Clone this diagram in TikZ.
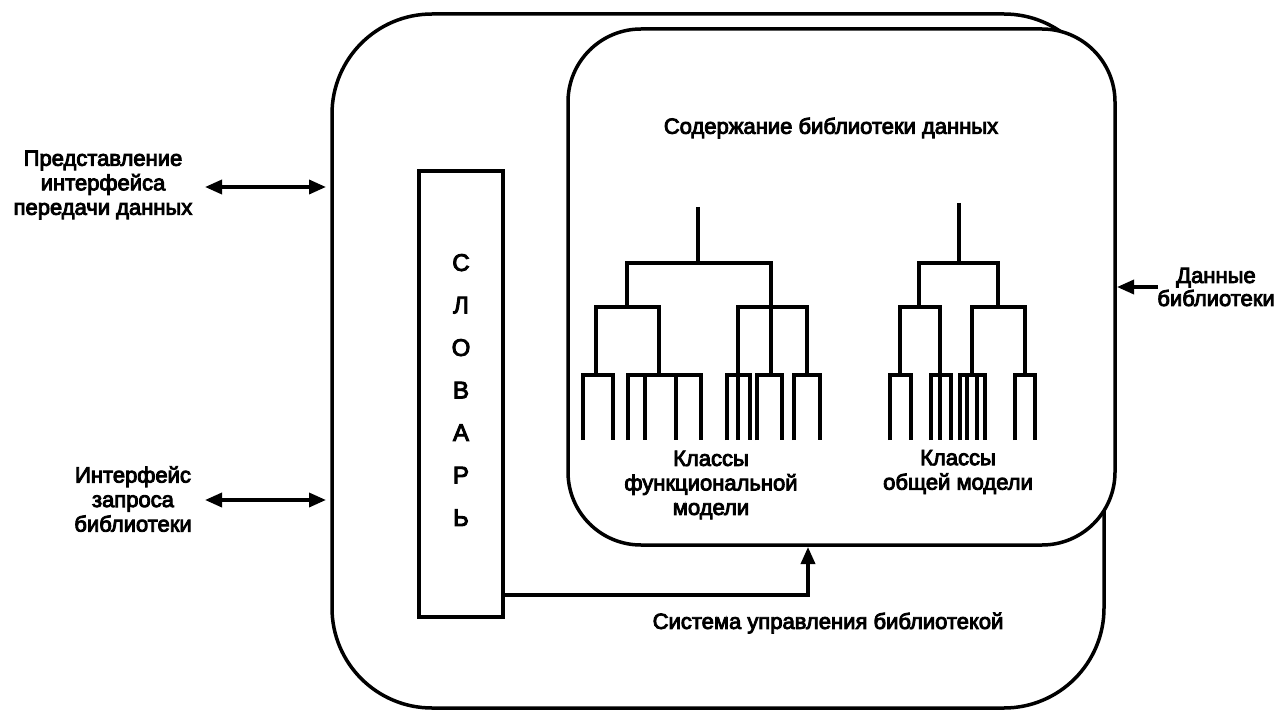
\documentclass[tikz,border=0pt]{standalone}
\usepackage{fontspec}
\setmainfont{Liberation Sans}
\newfontfamily\heavyfont{Liberation Sans}[FakeBold=4]
\usetikzlibrary{arrows.meta}
\begin{document}
\begin{tikzpicture}[x=1pt,y=-1pt,
  lbl/.style={font=\heavyfont\fontsize{22}{24.5}\selectfont, align=center, inner sep=0pt},
  boxline/.style={draw, line width=3.5pt, inner sep=0pt, outer sep=0pt},
  arr/.style={line width=3.5pt, -{Triangle[length=17pt,width=14pt]}},
  dbl/.style={line width=3.5pt, {Triangle[length=17pt,width=14pt]}-{Triangle[length=17pt,width=14pt]}},
  treeline/.style={line width=3.5pt, line join=miter}]
\useasboundingbox (0,0) rectangle (1279,711);
% outer system box
\node[boxline, fill=white, rounded corners=100pt, minimum width=772pt, minimum height=694pt] (outer) at (718,361) {};
% dictionary
\node[boxline, fill=white, minimum width=84pt, minimum height=446pt] (dict) at (461,394) {};
\node[lbl, font=\heavyfont\fontsize{24}{42.5}\selectfont] (dicttext) at (461,390) {С\\Л\\О\\В\\А\\Р\\Ь};
% inner content box
\node[boxline, fill=white, rounded corners=73pt, minimum width=547pt, minimum height=516pt] (inner) at (841.5,287) {};

% labels
\node[lbl] (content) at (831,128) {Содержание библиотеки данных};
\node[lbl] (repr) at (103,185) {Представление\\интерфейса\\передачи данных};
\node[lbl] (query) at (133,499) {Интерфейс\\запроса\\библиотеки};
\node[lbl, font=\heavyfont\fontsize{22}{23}\selectfont] (libdata) at (1216,287) {Данные\\библиотеки};
\node[lbl] (funcl) at (711,485) {Классы\\функциональной\\модели};
\node[lbl] (genl) at (958,472) {Классы\\общей модели};
\node[lbl] (sys) at (828,623) {Система управления библиотекой};

% arrows
\coordinate (a1) at (205,187);
\coordinate (a2) at (205,500);
\coordinate (a3) at (1158,287);
\coordinate (c1) at (808,595);
\draw[dbl, shorten >=6pt] (a1) -- (outer.west |- a1);
\draw[dbl, shorten >=6pt] (a2) -- (outer.west |- a2);
\draw[arr, shorten >=2pt] (a3) -- (inner.east |- a3);
\draw[arr, shorten >=2pt] (dict.east |- c1) -- (c1) -- (c1 |- inner.south);

% left tree (functional model classes)
\draw[treeline] (698,207) -- (698,263);
\draw[treeline] (627,307) -- (627,263) -- (771,263) -- (771,375);
\draw[treeline] (596,375) -- (596,307) -- (659,307) -- (659,375);
\draw[treeline] (738,375) -- (738,307) -- (807,307) -- (807,375);
\draw[treeline] (583,440) -- (583,375) -- (613,375) -- (613,440);
\draw[treeline] (628,440) -- (628,375) -- (701,375) -- (701,440);
\draw[treeline] (645,375) -- (645,440) (676,375) -- (676,440);
\draw[treeline] (727,440) -- (727,375) -- (750,375) -- (750,440);
\draw[treeline] (738,375) -- (738,440);
\draw[treeline] (757,440) -- (757,375) -- (782,375) -- (782,440);
\draw[treeline] (794,440) -- (794,375) -- (820,375) -- (820,440);

% right tree (general model classes)
\draw[treeline] (959,203) -- (959,263);
\draw[treeline] (919,307) -- (919,263) -- (998,263) -- (998,307);
\draw[treeline] (900,375) -- (900,307) -- (940,307) -- (940,375);
\draw[treeline] (972,375) -- (972,307) -- (1025,307) -- (1025,375);
\draw[treeline] (890,440) -- (890,375) -- (911,375) -- (911,440);
\draw[treeline] (931,440) -- (931,375) -- (951,375) -- (951,440);
\draw[treeline] (940,375) -- (940,440);
\draw[treeline] (960,440) -- (960,375) -- (985,375) -- (985,440);
\draw[treeline] (967,375) -- (967,440) (977,375) -- (977,440);
\draw[treeline] (1015,440) -- (1015,375) -- (1035,375) -- (1035,440);
\end{tikzpicture}
\end{document}
